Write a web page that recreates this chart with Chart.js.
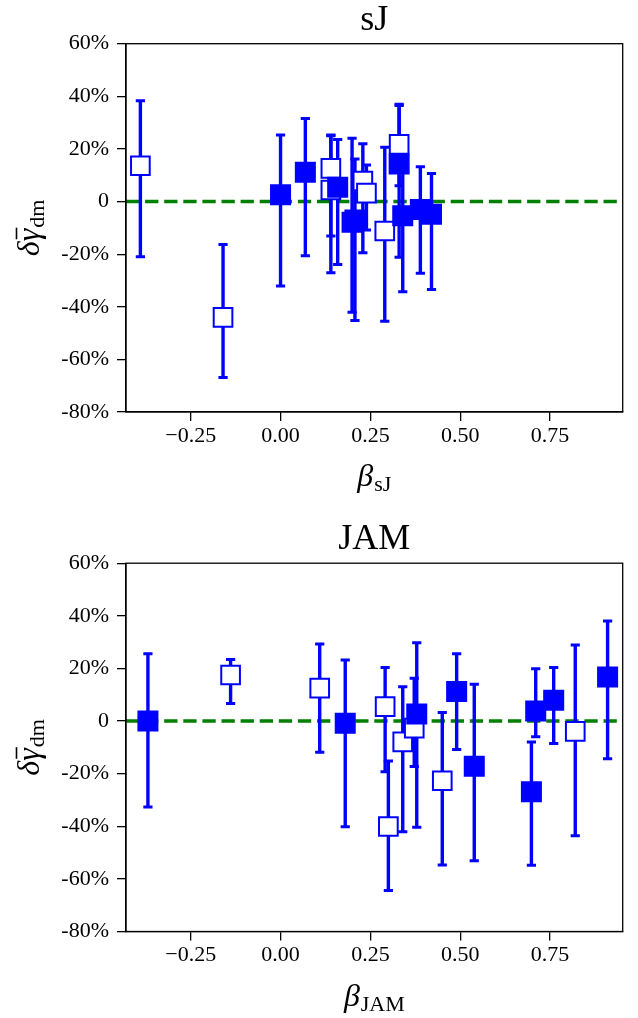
<!DOCTYPE html>
<html><head><meta charset="utf-8">
<script src="https://cdn.jsdelivr.net/npm/chart.js@4.4.1/dist/chart.umd.min.js"></script>
<style>
html,body{margin:0;padding:0;background:#fff;}
#wrap{position:relative;width:638px;height:1018px;overflow:hidden;}
.c{position:absolute;left:0;width:638px;height:509px;}
</style></head><body>
<div id="wrap">
<div class="c" style="top:0"><canvas id="c1" width="638" height="509"></canvas></div>
<div class="c" style="top:509px"><canvas id="c2" width="638" height="509"></canvas></div>
</div>
<script>
// ---- tick values ----
const xTicks = [-0.25, 0, 0.25, 0.5, 0.75];
const yTicks = [-80, -60, -40, -20, 0, 20, 40, 60];

// ---- panel 1: sJ ----
const sjFilledX  = [0.000, 0.069, 0.159, 0.199, 0.207, 0.330, 0.340, 0.389, 0.420];
const sjFilledY  = [2.6, 11.1, 5.4, -7.9, -7.0, 14.3, -5.4, -3.0, -4.8];
const sjFilledLo = [-32.1, -20.6, -23.9, -42.1, -45.2, -21.2, -34.3, -27.3, -33.4];
const sjFilledHi = [25.3, 31.6, 23.6, 24.1, 16.2, 36.5, 12.0, 13.2, 10.7];

const sjOpenX  = [-0.390, -0.160, 0.140, 0.140, 0.229, 0.239, 0.290, 0.330];
const sjOpenY  = [13.6, -44.0, 12.6, 4.4, 7.8, 3.2, -11.2, 21.7];
const sjOpenLo = [-21.0, -66.9, -13.1, -27.1, -19.5, -10.8, -45.5, 6.0];
const sjOpenHi = [38.3, -16.3, 25.3, 25.0, 22.0, 13.9, 20.6, 37.0];

// ---- panel 2: JAM ----
const jamFilledX  = [-0.369, 0.180, 0.379, 0.490, 0.539, 0.698, 0.710, 0.760, 0.910];
const jamFilledY  = [0.0, -0.8, 2.7, 11.2, -17.2, -26.9, 3.8, 7.9, 16.7];
const jamFilledLo = [-32.7, -40.2, -40.4, -10.8, -53.1, -54.8, -6.0, -8.5, -14.3];
const jamFilledHi = [25.6, 23.2, 29.8, 25.6, 14.0, -8.0, 19.9, 20.4, 38.0];

const jamOpenX  = [-0.139, 0.109, 0.291, 0.300, 0.340, 0.372, 0.450, 0.820];
const jamOpenY  = [17.5, 12.5, 5.5, -40.1, -7.9, -2.7, -22.7, -3.9];
const jamOpenLo = [6.7, -11.9, -19.3, -64.4, -42.1, -17.3, -54.7, -43.6];
const jamOpenHi = [23.4, 29.3, 20.4, -15.2, 13.0, 16.3, 3.2, 28.9];

const BLUE = '#0000ff';
const GREEN = '#008000';
const SERIF = "'Liberation Serif','Times New Roman',serif";

function pts(xs, ys) { return xs.map((x, i) => ({x: x, y: ys[i]})); }

const panelPlugin = {
  id: 'panel',
  beforeDatasetsDraw(chart, args, opts) {
    const ctx = chart.ctx, a = chart.chartArea;
    const xs = chart.scales.x, ys = chart.scales.y;
    ctx.save();
    ctx.beginPath();
    ctx.rect(a.left, a.top, a.right - a.left, a.bottom - a.top);
    ctx.clip();
    // zero reference line
    ctx.strokeStyle = GREEN;
    ctx.lineWidth = 3.5;
    ctx.setLineDash([13.3, 5.8]);
    const y0 = ys.getPixelForValue(0);
    ctx.beginPath();
    ctx.moveTo(a.left, y0);
    ctx.lineTo(a.right, y0);
    ctx.stroke();
    ctx.setLineDash([]);
    // error bars
    ctx.strokeStyle = BLUE;
    for (const s of opts.errs) {
      for (let i = 0; i < s.x.length; i++) {
        const px = xs.getPixelForValue(s.x[i]);
        const pl = ys.getPixelForValue(s.lo[i]);
        const ph = ys.getPixelForValue(s.hi[i]);
        ctx.lineWidth = 3.4;
        ctx.beginPath();
        ctx.moveTo(px, pl); ctx.lineTo(px, ph);
        ctx.stroke();
        ctx.lineWidth = 3;
        ctx.beginPath();
        ctx.moveTo(px - 4.6, pl); ctx.lineTo(px + 4.6, pl);
        ctx.moveTo(px - 4.6, ph); ctx.lineTo(px + 4.6, ph);
        ctx.stroke();
      }
    }
    ctx.restore();
  },
  afterDraw(chart, args, opts) {
    const ctx = chart.ctx, a = chart.chartArea;
    ctx.save();
    // frame
    ctx.strokeStyle = '#000';
    ctx.lineWidth = 1.3;
    ctx.strokeRect(a.left, a.top, a.right - a.left, a.bottom - a.top);
    const cx = (a.left + a.right) / 2;
    const cy = (a.top + a.bottom) / 2;
    ctx.fillStyle = '#000';
    ctx.textBaseline = 'alphabetic';
    // title
    ctx.font = '36px ' + SERIF;
    ctx.textAlign = 'center';
    ctx.fillText(opts.title, cx, a.top - 14);
    // x label: beta with roman subscript
    ctx.textAlign = 'left';
    const fMain = 'italic 32px ' + SERIF;
    const fSub = '22px ' + SERIF;
    ctx.font = fMain; const wb = ctx.measureText('β').width;
    ctx.font = fSub; const ws = ctx.measureText(opts.xsub).width;
    let x0 = cx - (wb + 1 + ws) / 2;
    const xb = a.bottom + 74;
    ctx.font = fMain; ctx.fillText('β', x0, xb);
    ctx.font = fSub; ctx.fillText(opts.xsub, x0 + wb + 1, xb + 5);
    // y label: delta gamma-bar sub dm (rotated)
    ctx.translate(39, cy);
    ctx.rotate(-Math.PI / 2);
    ctx.font = fMain;
    const wd = ctx.measureText('δ').width;
    const wg = ctx.measureText('γ').width;
    ctx.font = fSub;
    const wdm = ctx.measureText('dm').width;
    let s = -(wd + wg + wdm + 1) / 2;
    ctx.font = fMain;
    ctx.fillText('δ', s, 0);
    ctx.fillText('γ', s + wd, 0);
    ctx.lineWidth = 1.6;
    ctx.beginPath();
    ctx.moveTo(s + wd + 2, -22.5);
    ctx.lineTo(s + wd + wg + 1, -22.5);
    ctx.stroke();
    ctx.font = fSub;
    ctx.fillText('dm', s + wd + wg + 1, 5);
    ctx.restore();
  }
};

function makeChart(id, dy, title, xsub, fX, fY, fLo, fHi, oX, oY, oLo, oHi) {
  const tickFont = {family: SERIF, size: 22};
  return new Chart(document.getElementById(id), {
    type: 'scatter',
    data: {
      datasets: [
        {data: pts(fX, fY), pointStyle: 'rect', pointRadius: 13.8, pointHoverRadius: 13.8,
         backgroundColor: BLUE, borderColor: BLUE, borderWidth: 1.5},
        {data: pts(oX, oY), pointStyle: 'rect', pointRadius: 13.2, pointHoverRadius: 13.2,
         backgroundColor: '#ffffff', borderColor: BLUE, borderWidth: 2}
      ]
    },
    options: {
      responsive: false,
      animation: false,
      events: [],
      layout: {padding: {top: 43.7 + dy, left: 0, right: 9, bottom: 0}},
      plugins: {
        legend: {display: false},
        tooltip: {enabled: false},
        panel: {title: title, xsub: xsub,
                errs: [{x: fX, lo: fLo, hi: fHi}, {x: oX, lo: oLo, hi: oHi}]}
      },
      scales: {
        x: {
          type: 'linear', min: -0.43, max: 0.952,
          afterBuildTicks: s => { s.ticks = xTicks.map(v => ({value: v})); },
          afterFit: s => { s.height = 97 - dy; },
          ticks: {
            font: tickFont, color: '#000', padding: 2, maxRotation: 0, autoSkip: false,
            callback: v => (v < 0 ? '\u2212' + Math.abs(v).toFixed(2) : v.toFixed(2))
          },
          grid: {drawOnChartArea: false, drawTicks: true, tickLength: 9, color: '#000', lineWidth: 1.3},
          border: {display: true, color: '#000', width: 1.3}
        },
        y: {
          type: 'linear', min: -80, max: 60,
          afterBuildTicks: s => { s.ticks = yTicks.map(v => ({value: v})); },
          afterFit: s => { s.width = 126; },
          ticks: {
            font: tickFont, color: '#000', padding: 8, autoSkip: false,
            callback: v => (v === 0 ? '0' : v + '%')
          },
          grid: {drawOnChartArea: false, drawTicks: true, tickLength: 9, color: '#000', lineWidth: 1.3},
          border: {display: true, color: '#000', width: 1.3}
        }
      }
    },
    plugins: [panelPlugin]
  });
}

makeChart('c1', 0, 'sJ', 'sJ', sjFilledX, sjFilledY, sjFilledLo, sjFilledHi, sjOpenX, sjOpenY, sjOpenLo, sjOpenHi);
makeChart('c2', 10.5, 'JAM', 'JAM', jamFilledX, jamFilledY, jamFilledLo, jamFilledHi, jamOpenX, jamOpenY, jamOpenLo, jamOpenHi);
</script>
</body></html>
